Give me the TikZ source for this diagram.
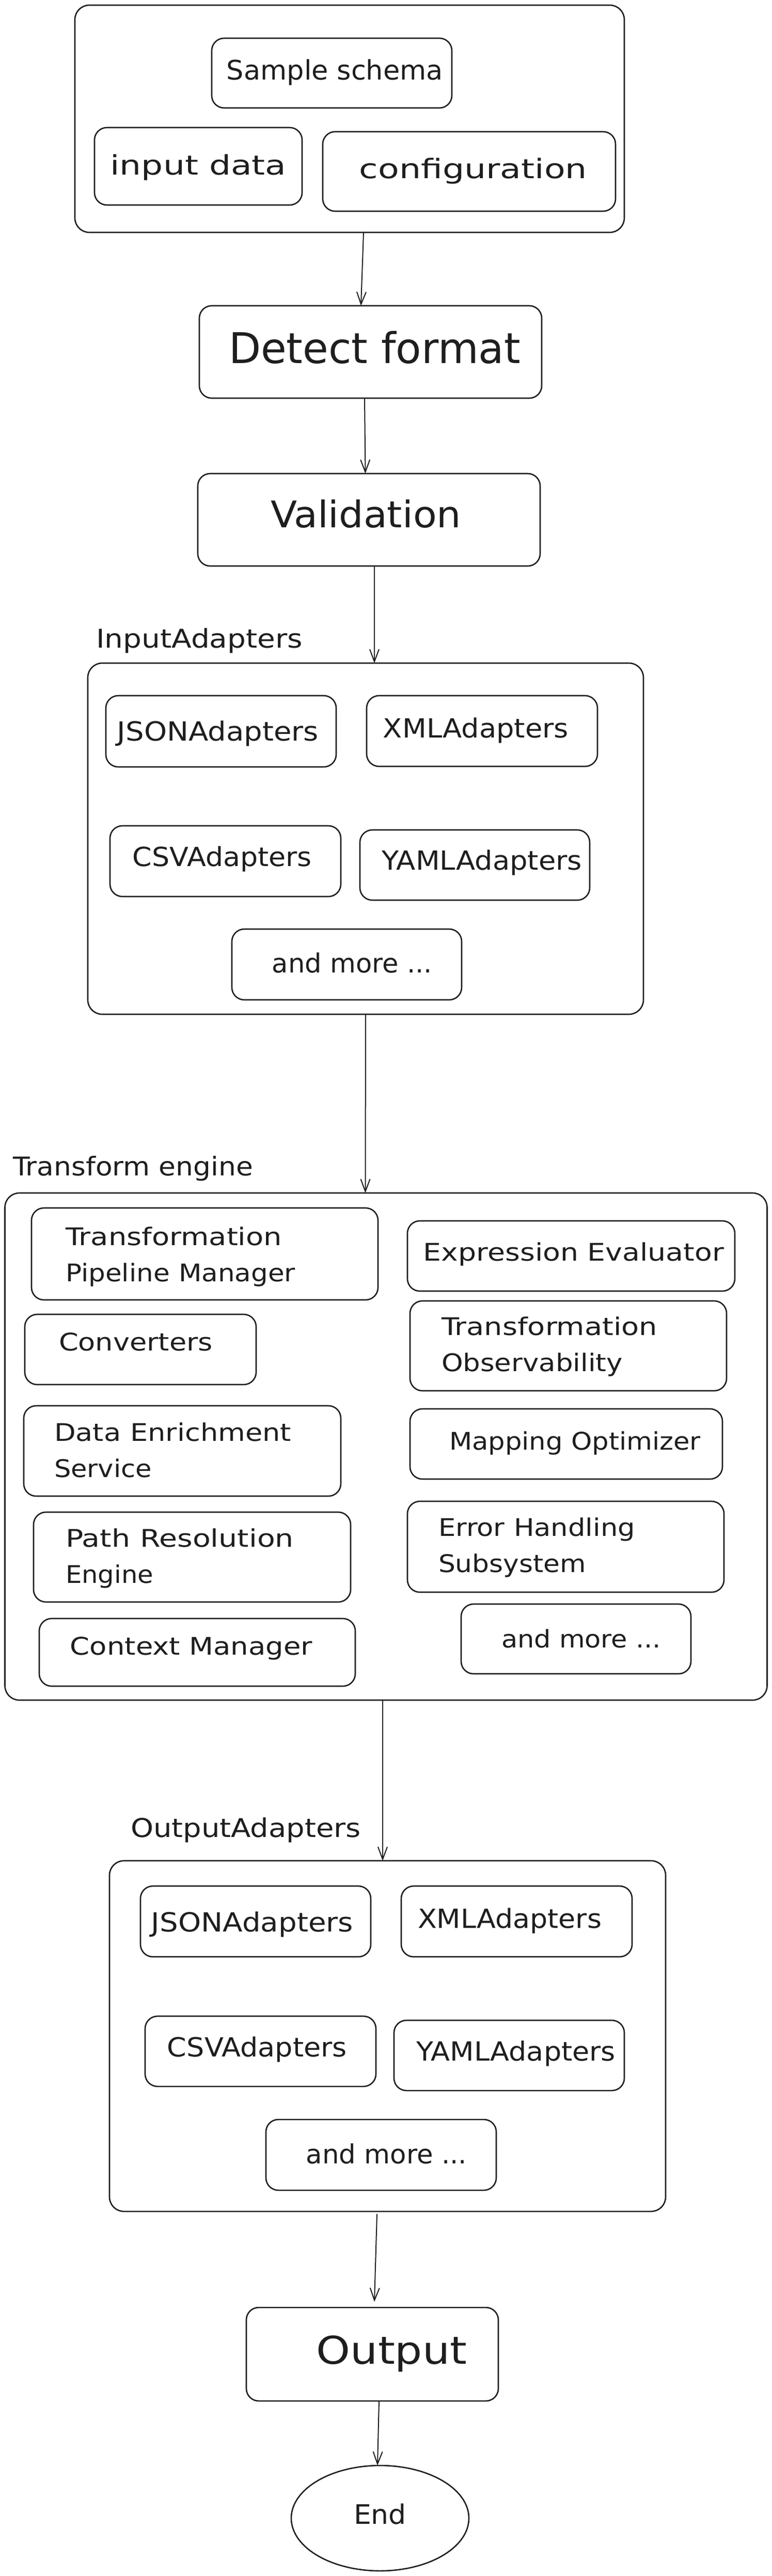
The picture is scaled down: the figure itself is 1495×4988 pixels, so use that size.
\documentclass[tikz,border=0pt]{standalone}
\usepackage{fontspec}
\usepackage{graphicx}
\setmainfont{DejaVu Sans}
\usetikzlibrary{arrows.meta,shapes.geometric}
\definecolor{ink}{HTML}{1E1E1E}
\newcommand{\hw}[2]{\resizebox{#1pt}{\height}{#2}}
\tikzset{
  box/.style={draw=ink, text=ink, line width=2.6pt, rounded corners=24pt, inner sep=0pt, outer sep=0pt},
  grp/.style={box, rounded corners=28pt},
  lbl/.style={text=ink, inner sep=0pt, outer sep=0pt, anchor=base west, font=\fontsize{50}{70}\selectfont},
  ftop/.style={font=\fontsize{52}{70}\selectfont},
  fbig/.style={font=\fontsize{82}{96}\selectfont},
  fval/.style={font=\fontsize{71}{90}\selectfont},
  fin/.style={font=\fontsize{51}{70}\selectfont},
  ftr/.style={font=\fontsize{47}{70}\selectfont},
  fout/.style={font=\fontsize{74}{90}\selectfont},
  fend/.style={font=\fontsize{52}{70}\selectfont},
  arr/.style={draw=ink, line width=2pt, -{Straight Barb[length=24pt,width=18pt,line width=2pt]}}
}
\begin{document}
\begin{tikzpicture}[x=1pt,y=-1pt]
\useasboundingbox (0,0) rectangle (1495,4988);
\fill[white] (0,0) rectangle (1495,4988);

% ---- sources
\node[grp, minimum width=1064pt, minimum height=440pt] (src) at (677,230) {};
\node[box, ftop, minimum width=465pt, minimum height=135pt, text height=27pt, text depth=0pt] (schema) at (642.5,141.5) {\hspace*{12pt}\hw{419}{Sample schema}};
\node[box, ftop, minimum width=402pt, minimum height=150pt, text height=34pt, text depth=0pt] (indata) at (384,322) {\hw{341}{input data}};
\node[box, ftop, minimum width=567pt, minimum height=154pt, text height=26pt, text depth=0pt] (config) at (908.5,332) {\hspace*{16pt}\hw{441}{configuration}};

% ---- detect / validate
\node[box, fbig, minimum width=663pt, minimum height=179pt, text height=43pt, text depth=0pt] (detect) at (717.5,681.5) {\hspace*{16pt}\hw{565}{Detect format}};
\node[box, fval, minimum width=663pt, minimum height=179pt, text height=29pt, text depth=0pt] (valid) at (714.5,1006.5) {\hw{369}{Validation}\hspace*{12pt}};

% ---- input adapters
\node[lbl] (inlbl) at (186,1254) {\hw{400}{InputAdapters}};
\node[grp, minimum width=1076pt, minimum height=680pt] (inbox) at (708,1624) {};
\node[box, fin, minimum width=446pt, minimum height=138pt, text height=36pt, text depth=0pt] (injson) at (428,1416) {\hw{390}{JSONAdapters}\hspace*{12pt}};
\node[box, fin, minimum width=447pt, minimum height=137pt, text height=25pt, text depth=0pt] (inxml) at (933.5,1415.5) {\hw{359}{XMLAdapters}\hspace*{24pt}};
\node[box, fin, minimum width=447pt, minimum height=137pt, text height=19pt, text depth=0pt] (incsv) at (436.5,1667.5) {\hw{347}{CSVAdapters}\hspace*{12pt}};
\node[box, fin, minimum width=445pt, minimum height=136pt, text height=19pt, text depth=0pt] (inyaml) at (919.5,1675) {\hspace*{27pt}\hw{388}{YAMLAdapters}};
\node[box, fin, minimum width=445pt, minimum height=137pt, text height=32pt, text depth=0pt] (inmore) at (671.5,1867.5) {\hspace*{21pt}\hw{310}{and more ...}};

% ---- transform engine
\node[lbl] (trlbl) at (25,2276) {\hw{465}{Transform engine}};
\node[grp, minimum width=1476pt, minimum height=982pt] (trbox) at (747.5,2801) {};
\node[box, ftr, minimum width=671pt, minimum height=178pt, text width=539pt, inner xsep=66pt, align=left, text height=0pt, text depth=34pt] (tpm) at (396.5,2428) {\hw{419}{Transformation}\\\hw{445}{Pipeline Manager}};
\node[box, ftr, minimum width=634pt, minimum height=136pt, text height=18pt, text depth=0pt] (expr) at (1106,2432) {\hspace*{10pt}\hw{582}{Expression Evaluator}};
\node[box, ftr, minimum width=448pt, minimum height=136pt, text height=4pt, text depth=0pt] (conv) at (272,2613) {\hw{298}{Converters}\hspace*{18pt}};
\node[box, ftr, minimum width=613pt, minimum height=174pt, text width=491pt, inner xsep=61pt, align=left, text height=0pt, text depth=41pt] (obs) at (1100.5,2606) {\hw{418}{Transformation}\\\hw{351}{Observability}};
\node[box, ftr, minimum width=614pt, minimum height=175pt, text width=496pt, inner xsep=59pt, align=left, text height=0pt, text depth=39pt] (enrich) at (353,2809.5) {\hw{459}{Data Enrichment}\\\hw{189}{Service}};
\node[box, ftr, minimum width=605pt, minimum height=136pt, text height=23pt, text depth=0pt] (mapopt) at (1096.5,2796) {\hspace*{34pt}\hw{487}{Mapping Optimizer}};
\node[box, ftr, minimum width=614pt, minimum height=174pt, text width=490pt, inner xsep=62pt, align=left, text height=0pt, text depth=40pt] (path) at (372,3015) {\hw{442}{Path Resolution}\\\hw{170}{Engine}};
\node[box, ftr, minimum width=613pt, minimum height=176pt, text width=493pt, inner xsep=60pt, align=left, text height=0pt, text depth=42pt] (err) at (1095.5,2995) {\hw{381}{Error Handling}\\\hw{286}{Subsystem}};
\node[box, ftr, minimum width=612pt, minimum height=131pt, text height=9pt, text depth=0pt] (ctx) at (382,3199.5) {\hw{469}{Context Manager}\hspace*{23pt}};
\node[box, ftr, minimum width=445pt, minimum height=135pt, text height=33pt, text depth=0pt] (trmore) at (1115.5,3173.5) {\hspace*{20pt}\hw{309}{and more ...}};

% ---- output adapters
\node[lbl] (outlbl) at (253,3557) {\hw{446}{OutputAdapters}};
\node[grp, minimum width=1077pt, minimum height=679pt] (outbox) at (750.5,3942.5) {};
\node[box, fin, minimum width=446pt, minimum height=137pt, text height=39pt, text depth=0pt] (outjson) at (495,3720.5) {\hw{391}{JSONAdapters}\hspace*{13pt}};
\node[box, fin, minimum width=447pt, minimum height=137pt, text height=26pt, text depth=0pt] (outxml) at (1000.5,3720.5) {\hw{356}{XMLAdapters}\hspace*{27pt}};
\node[box, fin, minimum width=447pt, minimum height=136pt, text height=20pt, text depth=0pt] (outcsv) at (504.5,3972) {\hw{348}{CSVAdapters}\hspace*{13pt}};
\node[box, fin, minimum width=446pt, minimum height=136pt, text height=20pt, text depth=0pt] (outyaml) at (986,3980) {\hspace*{26pt}\hw{386}{YAMLAdapters}};
\node[box, fin, minimum width=446pt, minimum height=137pt, text height=34pt, text depth=0pt] (outmore) at (738,4172.5) {\hspace*{21pt}\hw{311}{and more ...}};

% ---- output / end
\node[box, fout, minimum width=488pt, minimum height=181pt, text height=37pt, text depth=0pt] (output) at (721,4558.5) {\hspace*{75pt}\hw{291}{Output}};
\node[draw=ink, text=ink, line width=2.6pt, ellipse, fend, minimum width=344pt, minimum height=204pt, inner sep=0pt, outer sep=0pt, text height=23pt, text depth=0pt] (end) at (736,4876) {\hw{102}{End}};

% ---- connectors
\draw[arr] ([xshift=27pt]src.south) -- ([xshift=-18.5pt]detect.north);
\draw[arr] ([xshift=-11.5pt]detect.south) -- ([xshift=-7pt]valid.north);
\draw[arr] ([xshift=10.5pt]valid.south) -- ([xshift=17pt]inbox.north);
\draw[arr] (inbox.south) -- ([xshift=-40pt]trbox.north);
\draw[arr] ([xshift=-6.5pt]trbox.south) -- ([xshift=-9.5pt]outbox.north);
\draw[arr] ([xshift=-20.5pt,yshift=-5pt]outbox.south) -- ([xshift=4pt,yshift=11pt]output.north);
\draw[arr] ([xshift=13pt]output.south) -- ([xshift=-5pt]end.north);
\end{tikzpicture}
\end{document}
